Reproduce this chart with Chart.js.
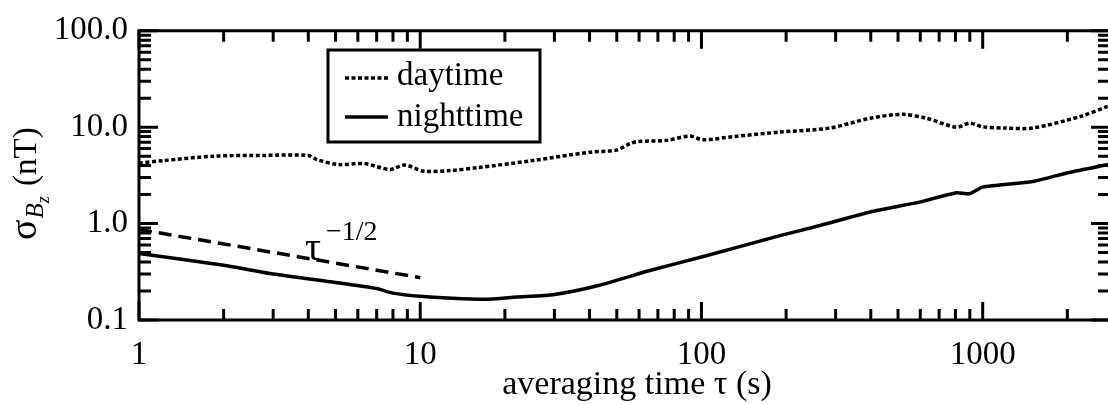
<!DOCTYPE html>
<html>
<head>
<meta charset="utf-8">
<script src="https://cdn.jsdelivr.net/npm/chart.js@4.4.1/dist/chart.umd.min.js"></script>
<style>
    html, body { margin: 0; padding: 0; background: #fff; }
    #wrap { width: 1108px; height: 404px; }
</style>
</head>
<body>
<div id="wrap"><canvas id="sigmaChart"></canvas></div>
<script>
// ==================== DATA ====================

const dayTau = [1, 1.22, 1.84, 2.8, 4.0, 4.3, 5.1, 6.3, 7.8, 8.8, 10.3, 12.8, 16, 25, 40, 50, 56, 59, 75, 91, 101, 130, 190, 286, 398, 520, 630, 807, 898, 1000, 1200, 1506, 2220, 2790];
const daySigma = [4.25, 4.5, 5.0, 5.1, 5.1, 4.6, 4.1, 4.2, 3.65, 4.05, 3.5, 3.55, 3.8, 4.5, 5.5, 5.8, 6.8, 7.1, 7.3, 8.1, 7.4, 8.0, 8.9, 9.8, 12.4, 13.6, 12.4, 10.0, 11.0, 10.1, 9.8, 9.8, 12.9, 16.5];

const nightTau = [1, 2, 3, 5, 7, 8, 10, 13, 17, 22, 30, 43, 65, 100, 190, 264, 398, 596, 807, 898, 1000, 1506, 2025, 2790];
const nightSigma = [0.49, 0.37, 0.30, 0.245, 0.212, 0.19, 0.176, 0.168, 0.164, 0.173, 0.184, 0.228, 0.324, 0.45, 0.75, 0.955, 1.32, 1.67, 2.09, 2.04, 2.39, 2.73, 3.39, 4.1];

const slopeTau = [1, 10];
const slopeSigma = [0.87, 0.275];

const xDecades = [1, 10, 100, 1000];
const xTickLabels = ['1', '10', '100', '1000'];
const yDecades = [0.1, 1, 10, 100];
const yTickLabels = ['0.1', '1.0', '10.0', '100.0'];
const minorSteps = [2, 3, 4, 5, 6, 7, 8, 9];

const FONT = "'Liberation Serif', 'Times New Roman', serif";

// ==================== HELPERS ====================

function toPoints(xs, ys) {
    return xs.map((x, i) => ({ x: x, y: ys[i] }));
}

function logTicks(decades, min, max) {
    const out = [];
    decades.concat([decades[decades.length - 1] * 10]).forEach(d => {
        [1].concat(minorSteps).forEach(m => {
            const v = d * m;
            if (v >= min && v <= max) out.push({ value: v, major: m === 1 });
        });
    });
    return out;
}

// inward ticks + frame, legend and annotations
const framePlugin = {
    id: 'frame',
    afterDraw(chart) {
        const ctx = chart.ctx;
        const area = chart.chartArea;
        const xs = chart.scales.x;
        const ys = chart.scales.y;

        ctx.save();
        ctx.strokeStyle = '#000';
        ctx.lineWidth = 3;
        ctx.lineCap = 'butt';

        // frame (right side sits at the canvas edge)
        ctx.beginPath();
        ctx.moveTo(area.left, area.top);
        ctx.lineTo(area.right + 2, area.top);
        ctx.moveTo(area.left, area.top - 1.5);
        ctx.lineTo(area.left, area.bottom + 1.5);
        ctx.moveTo(area.left, area.bottom);
        ctx.lineTo(area.right + 2, area.bottom);
        ctx.stroke();

        // x ticks, bottom and top
        xs.ticks.forEach(t => {
            const px = xs.getPixelForValue(t.value);
            const len = t.major ? 18 : 11;
            ctx.beginPath();
            ctx.moveTo(px, area.bottom);
            ctx.lineTo(px, area.bottom - len);
            ctx.moveTo(px, area.top);
            ctx.lineTo(px, area.top + len);
            ctx.stroke();
        });

        // y ticks, left and right
        ys.ticks.forEach(t => {
            const py = ys.getPixelForValue(t.value);
            const len = t.major ? 19 : 12;
            ctx.beginPath();
            ctx.moveTo(area.left, py);
            ctx.lineTo(area.left + len, py);
            ctx.moveTo(area.right + 2, py);
            ctx.lineTo(area.right + 2 - len, py);
            ctx.stroke();
        });

        // legend box
        ctx.strokeRect(328, 50, 212, 92);
        const ds = chart.data.datasets;
        [[ds[0], 78, 85], [ds[1], 117, 126]].forEach(([d, ly, by]) => {
            ctx.save();
            ctx.lineWidth = d.borderWidth;
            ctx.setLineDash(d.borderDash || []);
            ctx.beginPath();
            ctx.moveTo(345, ly);
            ctx.lineTo(388, ly);
            ctx.stroke();
            ctx.restore();
            ctx.fillStyle = '#000';
            ctx.font = `33px ${FONT}`;
            ctx.textBaseline = 'alphabetic';
            ctx.textAlign = 'left';
            ctx.fillText(d.label, 397, by);
        });

        // tau^-1/2 annotation
        ctx.fillStyle = '#000';
        ctx.textAlign = 'left';
        ctx.font = `40px ${FONT}`;
        ctx.fillText('τ', 305, 260);
        ctx.font = `28px ${FONT}`;
        ctx.fillText('−1/2', 326, 240);

        // x title
        ctx.font = `34px ${FONT}`;
        ctx.textAlign = 'center';
        ctx.fillText('averaging time τ (s)', 637, 394);

        // y title: sigma_{B_z} (nT), rotated
        ctx.translate(36, 240);
        ctx.rotate(-Math.PI / 2);
        ctx.textAlign = 'left';
        let cx = 0;
        ctx.font = `38px ${FONT}`;
        ctx.fillText('σ', cx, 0);
        cx += ctx.measureText('σ').width + 1;
        ctx.font = `italic 25px ${FONT}`;
        ctx.fillText('B', cx, 7);
        cx += ctx.measureText('B').width;
        ctx.font = `italic 18px ${FONT}`;
        ctx.fillText('z', cx, 13);
        cx += ctx.measureText('z').width + 2;
        ctx.font = `33px ${FONT}`;
        ctx.fillText(' (nT)', cx, 0);
        ctx.restore();
    }
};

// ==================== CHART ====================

function renderSigmaChart() {
    const ctx = document.getElementById('sigmaChart').getContext('2d');
    new Chart(ctx, {
        type: 'line',
        data: {
            datasets: [{
                label: 'daytime',
                data: toPoints(dayTau, daySigma),
                borderColor: '#000',
                borderWidth: 3.5,
                borderDash: [4, 2.5],
                pointRadius: 0,
                tension: 0.3,
                fill: false
            }, {
                label: 'nighttime',
                data: toPoints(nightTau, nightSigma),
                borderColor: '#000',
                borderWidth: 3.5,
                pointRadius: 0,
                tension: 0.2,
                fill: false
            }, {
                label: 'slope',
                data: toPoints(slopeTau, slopeSigma),
                borderColor: '#000',
                borderWidth: 3.5,
                borderDash: [13, 7],
                pointRadius: 0,
                tension: 0,
                fill: false
            }]
        },
        options: {
            responsive: true,
            maintainAspectRatio: false,
            animation: false,
            layout: { padding: { top: 26, right: 0, left: 0, bottom: 0 } },
            plugins: { legend: { display: false }, tooltip: { enabled: false } },
            scales: {
                x: {
                    type: 'logarithmic',
                    min: 1,
                    max: 2790,
                    grid: { display: false, drawTicks: false },
                    border: { display: false },
                    afterBuildTicks: s => { s.ticks = logTicks(xDecades, 1, 2790); },
                    afterFit: s => { s.height = 84; },
                    ticks: {
                        autoSkip: false,
                        maxRotation: 0,
                        padding: 16,
                        color: '#000',
                        font: { family: FONT, size: 33 },
                        callback: v => {
                            const i = xDecades.indexOf(v);
                            return i >= 0 ? xTickLabels[i] : '';
                        }
                    }
                },
                y: {
                    type: 'logarithmic',
                    min: 0.1,
                    max: 100,
                    grid: { display: false, drawTicks: false },
                    border: { display: false },
                    afterBuildTicks: s => { s.ticks = logTicks(yDecades, 0.1, 100); },
                    afterFit: s => { s.width = 139; },
                    ticks: {
                        autoSkip: false,
                        padding: 11,
                        color: '#000',
                        font: { family: FONT, size: 33 },
                        callback: v => {
                            const i = yDecades.findIndex(d => Math.abs(d - v) < 1e-9);
                            return i >= 0 ? yTickLabels[i] : '';
                        }
                    }
                }
            }
        },
        plugins: [framePlugin]
    });
}

document.addEventListener('DOMContentLoaded', renderSigmaChart);
</script>
</body>
</html>
